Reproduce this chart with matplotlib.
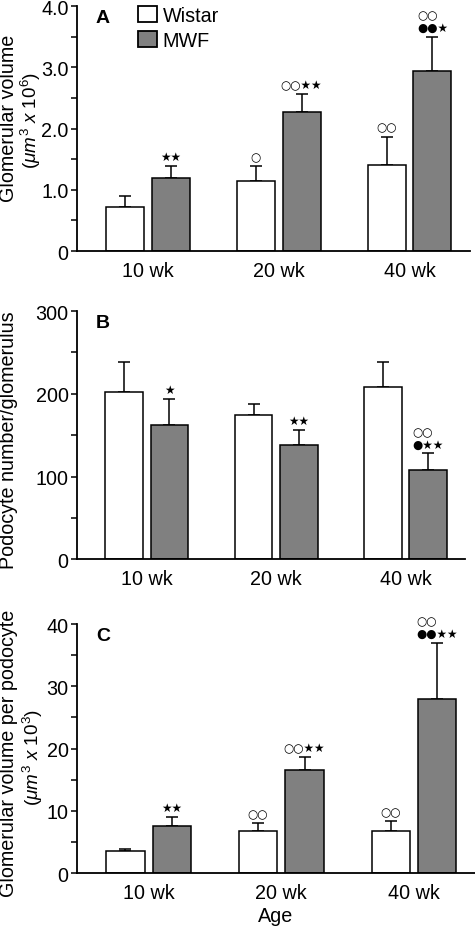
import numpy as np
import matplotlib
matplotlib.use('Agg')
import matplotlib.pyplot as plt
from matplotlib.ticker import MultipleLocator, FixedLocator, FixedFormatter
from matplotlib.patches import Patch

plt.rcParams['font.family'] = ['Liberation Sans', 'DejaVu Sans']
plt.rcParams['mathtext.fontset'] = 'custom'
plt.rcParams['mathtext.rm'] = 'Liberation Sans'
plt.rcParams['mathtext.it'] = 'Liberation Sans:italic'

# data
ages = ['10 wk', '20 wk', '40 wk']

vol_wistar = [0.72, 1.15, 1.41]
vol_wistar_err = [0.18, 0.24, 0.46]
vol_mwf = [1.20, 2.27, 2.94]
vol_mwf_err = [0.19, 0.29, 0.56]

pod_wistar = [202, 174, 208]
pod_wistar_err = [36, 14, 30]
pod_mwf = [162, 138, 108]
pod_mwf_err = [32, 18, 20]

vpp_wistar = [3.5, 6.7, 6.75]
vpp_wistar_err = [0.35, 1.3, 1.55]
vpp_mwf = [7.5, 16.5, 28.0]
vpp_mwf_err = [1.55, 2.1, 9.0]

# significance marks above each bar
vol_marks_w = ['', '○', '○○']
vol_marks_m = ['★★', '○○★★', '○○\n●●★']
pod_marks_w = ['', '', '']
pod_marks_m = ['★', '★★', '○○\n●★★']
vpp_marks_w = ['', '○○', '○○']
vpp_marks_m = ['★★', '○○★★', '○○\n●●★★']

GRAY = '#808080'
FS = 14.2


def marks(ax, xs, vals, errs, labels):
    for xi, v, e, s in zip(xs, vals, errs, labels):
        if s:
            ax.annotate(s, (xi, v + e), xytext=(0, 2), textcoords='offset points',
                        ha='center', va='bottom', fontsize=8.5, family='DejaVu Sans',
                        multialignment='left', linespacing=0.95)


def panel(ax, w, we, m, me, mw, mm, ylim, major, minor, ticklabels, letter, ylabel, lab_xy,
          unit=None, unit_xy=None):
    x = np.arange(len(ages))
    off, width = 0.175, 0.29
    ax.bar(x - off, w, width, color='white', edgecolor='black', linewidth=1.1, zorder=2)
    ax.bar(x + off, m, width, color=GRAY, edgecolor='black', linewidth=1.1, zorder=2)
    ax.errorbar(x - off, w, yerr=[np.zeros(len(w)), we], fmt='none', ecolor='black',
                elinewidth=1.1, capsize=4.5, capthick=1.1, zorder=1)
    ax.errorbar(x + off, m, yerr=[np.zeros(len(m)), me], fmt='none', ecolor='black',
                elinewidth=1.1, capsize=4.5, capthick=1.1, zorder=1)
    marks(ax, x - off, w, we, mw)
    marks(ax, x + off, m, me, mm)

    ax.set_xlim(-0.54, 2.46)
    ax.set_ylim(*ylim)
    ax.set_xticks(x)
    ax.set_xticklabels(ages, fontsize=FS)
    ax.yaxis.set_major_locator(FixedLocator(major))
    ax.yaxis.set_major_formatter(FixedFormatter(ticklabels))
    ax.yaxis.set_minor_locator(MultipleLocator(minor))
    ax.tick_params(axis='y', which='both', direction='out', length=4.5, width=1.1, labelsize=FS, pad=1.5)
    ax.tick_params(axis='x', length=0, pad=7)
    for s in ['top', 'right']:
        ax.spines[s].set_visible(False)
    for s in ['left', 'bottom']:
        ax.spines[s].set_linewidth(1.3)
    ax.text(0.048, 0.99, letter, transform=ax.transAxes, fontsize=14, fontweight='bold', va='top')
    ax.set_ylabel(ylabel, fontsize=FS)
    ax.yaxis.set_label_coords(*lab_xy)
    if unit:
        ax.text(unit_xy[0], unit_xy[1], unit, transform=ax.transAxes, rotation=90,
                ha='center', va='center', fontsize=13.6)


fig = plt.figure(figsize=(4.75, 9.29), dpi=100)
axA = fig.add_axes([0.162, 0.7287, 0.827, 0.2637])
axB = fig.add_axes([0.162, 0.397, 0.817, 0.267])
axC = fig.add_axes([0.162, 0.0592, 0.838, 0.268])

panel(axA, vol_wistar, vol_wistar_err, vol_mwf, vol_mwf_err, vol_marks_w, vol_marks_m,
      (0, 4.0), [0, 1, 2, 3, 4], 0.5, ['0', '1.0', '2.0', '3.0', '4.0'], 'A',
      'Glomerular volume', (-0.150, 0.547),
      r'$\mathit{(\mu m^3\ x\ 10^6)}$', (-0.117, 0.539))
panel(axB, pod_wistar, pod_wistar_err, pod_mwf, pod_mwf_err, pod_marks_w, pod_marks_m,
      (0, 300), [0, 100, 200, 300], 50, ['0', '100', '200', '300'], 'B',
      'Podocyte number/glomerulus', (-0.152, 0.485))
panel(axC, vpp_wistar, vpp_wistar_err, vpp_mwf, vpp_mwf_err, vpp_marks_w, vpp_marks_m,
      (0, 40), [0, 10, 20, 30, 40], 5, ['0', '10', '20', '30', '40'], 'C',
      'Glomerular volume per podocyte', (-0.148, 0.486),
      r'$\mathit{(\mu m^3\ x\ 10^3)}$', (-0.111, 0.47))
axC.set_xlabel('Age', fontsize=FS, labelpad=3)

handles = [Patch(facecolor='white', edgecolor='black', linewidth=1.3),
           Patch(facecolor=GRAY, edgecolor='black', linewidth=1.3)]
axA.legend(handles, ['Wistar', 'MWF'], loc='upper left', bbox_to_anchor=(0.155, 1.0),
           frameon=False, fontsize=FS, handlelength=0.95, handleheight=0.85,
           handletextpad=0.3, labelspacing=0.3, borderpad=0, borderaxespad=0)

fig.savefig('out.png', dpi=100)
